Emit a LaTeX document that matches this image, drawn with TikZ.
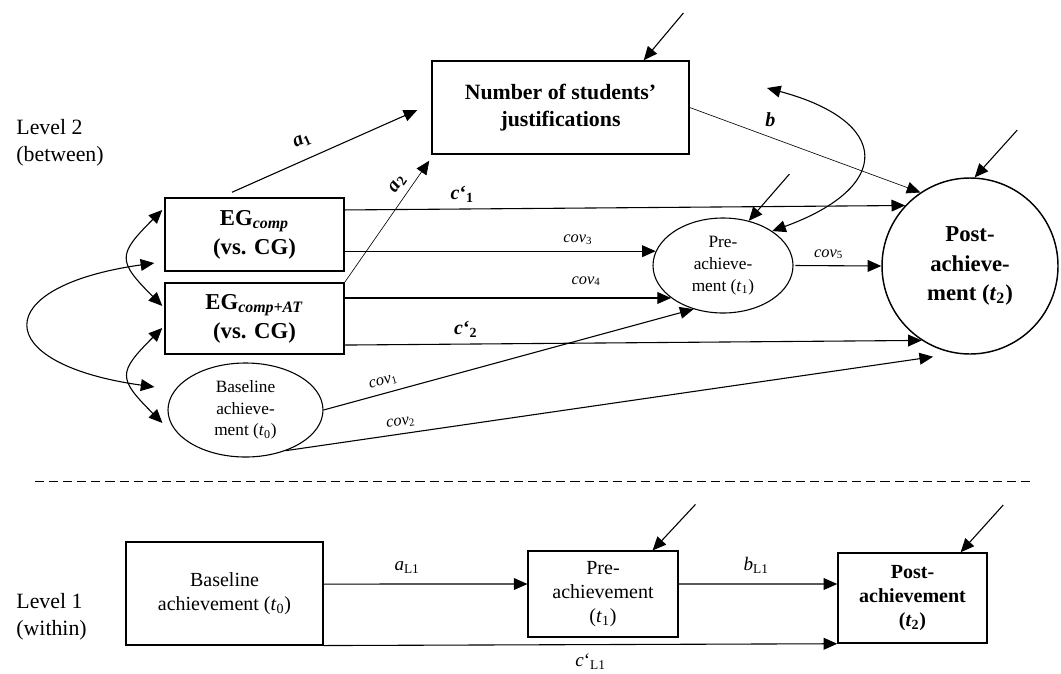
\documentclass[tikz,border=0pt]{standalone}
\usepackage{fontspec}
\setmainfont{Liberation Serif}
\usepackage{tikz}
\usetikzlibrary{arrows.meta}
\usetikzlibrary{shapes.geometric}

\tikzset{
  box/.style={draw, rectangle, line width=0.8pt, align=center, inner sep=1pt},
  oval/.style={draw, ellipse, line width=0.6pt, align=center, inner sep=1pt},
  effect/.style={-{Triangle[length=7.5pt,width=6.5pt]}, line width=0.6pt},
  slimeffect/.style={-{Triangle[length=7.5pt,width=6.5pt]}, line width=0.35pt},
  covar/.style={{Triangle[length=7.5pt,width=6.5pt]}-{Triangle[length=7.5pt,width=6.5pt]}, line width=0.6pt},
  resid/.style={{Triangle[length=7.5pt,width=6.5pt]}-, line width=0.6pt},
  lvl/.style={align=left, anchor=west, font=\fontsize{12}{14.8}\selectfont},
  coef/.style={font=\fontsize{11}{12}\selectfont\bfseries},
  covlab/.style={font=\fontsize{9}{10}\selectfont},
  l1lab/.style={font=\fontsize{10.5}{12}\selectfont}
}

\begin{document}
\begin{tikzpicture}[x=0.55pt, y=-0.55pt]
\useasboundingbox (0,0) rectangle (1061,673);
\fill[white] (0,0) rectangle (1061,673);

% level 2
\node[lvl] (lev2) at (10,143) {Level 2\\(between)};

\node[box, minimum width=141.35pt, minimum height=51.15pt,
  font=\fontsize{12}{15}\selectfont\bfseries] (just) at (560.5,107.5)
  {Number of students’\\justifications};
\node[box, minimum width=98.45pt, minimum height=40.15pt,
  font=\fontsize{12.5}{16}\selectfont\bfseries] (egc) at (254.5,234.5)
  {EG\textsubscript{\textit{comp}}\\(vs. CG)};
\node[box, minimum width=98.45pt, minimum height=39.05pt,
  font=\fontsize{12.5}{16}\selectfont\bfseries] (egat) at (254.5,318.5)
  {EG\textsubscript{\textit{comp+AT}}\\(vs. CG)};
\node[oval, minimum width=85.25pt, minimum height=51.7pt,
  font=\fontsize{9.5}{12}\selectfont] (base) at (245.5,410)
  {Baseline\\achieve-\\ment (\textit{t}\textsubscript{0})};
\node[oval, minimum width=77pt, minimum height=52.25pt,
  font=\fontsize{9.5}{12}\selectfont] (pre) at (723,265.5)
  {Pre-\\achieve-\\ment (\textit{t}\textsubscript{1})};
\node[draw, circle, line width=0.8pt, align=center, minimum size=96.8pt,
  font=\fontsize{12.5}{16}\selectfont\bfseries] (post) at (970,266)
  {Post-\\achieve-\\ment (\textit{t}\textsubscript{2})};

\draw[effect] ([shift={(-12.4pt,2.75pt)}]egc.north) -- ([shift={(-7.7pt,-1.4pt)}]just.west)
  node[coef, pos=.42, sloped, above=3pt] {\textit{a}\textsubscript{1}};
\draw[slimeffect] (egat.north east) -- ([shift={(-1.1pt,-3.3pt)}]just.south west)
  node[coef, pos=.75, sloped, above] {\textit{a}\textsubscript{2}};
\draw[slimeffect] (just.east) -- (post.124)
  node[coef, pos=.35, above=2pt] {\textit{b}};
\draw[effect] ([yshift=13.5pt]egc.east) -- (post.137)
  node[coef, pos=.21, above] {\textit{c}‘\textsubscript{1}};
\draw[effect] (egc.east |- pre.168) -- (pre.168)
  node[covlab, pos=.75, above] {\textit{cov}\textsubscript{3}};
\draw[effect] (egat.east |- pre.212) -- (pre.212)
  node[covlab, pos=.74, above=3pt] {\textit{cov}\textsubscript{4}};
\draw[effect] ([yshift=-14.6pt]egat.east) -- (post.237)
  node[coef, pos=.21, above] {\textit{c}‘\textsubscript{2}};
\draw[effect] (base.east) -- (pre.236)
  node[covlab, pos=.17, sloped, above] {\textit{cov}\textsubscript{1}};
\draw[effect] (base.-45) -- ([shift={(-20.3pt,-1.1pt)}]post.south)
  node[covlab, pos=.18, sloped, above] {\textit{cov}\textsubscript{2}};
\draw[effect, shorten <=1pt] (pre.east) -- (post.west)
  node[covlab, pos=.4, above] {\textit{cov}\textsubscript{5}};

\draw[covar] ([shift={(-1.1pt,13.5pt)}]egc.west) to[out=225, in=135, looseness=1.7]
  ([shift={(-1.1pt,6.9pt)}]egat.west);
\draw[covar] ([shift={(-5.5pt,-15.7pt)}]egc.west) .. controls +(188:92pt) and +(172:92pt)
  .. ([shift={(-7.15pt,12.65pt)}]base.west);
\draw[covar] ([shift={(-1.1pt,-5.2pt)}]egat.west) to[out=225, in=135, looseness=1.7]
  ([shift={(-2.75pt,-7.15pt)}]base.west);
\coordinate (cfree) at (767,88);
\draw[covar] (cfree) to[out=-15, in=20, looseness=2.3] (pre.35);

\draw[resid] ([xshift=-25.3pt]just.north east) -- ++(50:34pt) coordinate (ejust);
\draw[resid] (pre.60) -- ++(49:34pt) coordinate (epre);
\draw[resid] (post.87) -- ++(48:35pt) coordinate (epost);

\draw[dash pattern=on 5pt off 2.75pt, line width=0.5pt] (35,481) -- (1035,481);

% level 1
\node[lvl] (lev1) at (10,617) {Level 1\\(within)};

\node[box, line width=0.6pt, minimum width=108.35pt, minimum height=56.65pt,
  font=\fontsize{11}{13}\selectfont] (base1) at (224.5,593.5)
  {Baseline\\achievement (\textit{t}\textsubscript{0})};
\node[box, line width=0.6pt, minimum width=82.5pt, minimum height=47.3pt,
  font=\fontsize{11}{13}\selectfont] (pre1) at (603,594)
  {Pre-\\achievement\\(\textit{t}\textsubscript{1})};
\node[box, minimum width=81.95pt, minimum height=49.5pt,
  font=\fontsize{11}{13}\selectfont\bfseries] (post1) at (912.5,598)
  {Post-\\achievement\\(\textit{t}\textsubscript{2})};

\draw[effect] ([yshift=5.2pt]base1.east) -- ([yshift=5.5pt]pre1.west)
  node[l1lab, pos=.41, above=2pt] {\textit{a}\textsubscript{L1}};
\draw[effect] ([yshift=5.5pt]pre1.east) -- ([yshift=7.7pt]post1.west)
  node[l1lab, pos=.49, above=2pt] {\textit{b}\textsubscript{L1}};
\draw[effect] (base1.south east) -- (post1.south west)
  node[l1lab, pos=.52, below=1.5pt] {\textit{c}‘\textsubscript{L1}};

\draw[resid] ([xshift=-14.3pt]pre1.north east) -- ++(47:34.6pt) coordinate (epre1);
\draw[resid] ([xshift=-14.9pt]post1.north east) -- ++(48:35pt) coordinate (epost1);

\end{tikzpicture}
\end{document}
